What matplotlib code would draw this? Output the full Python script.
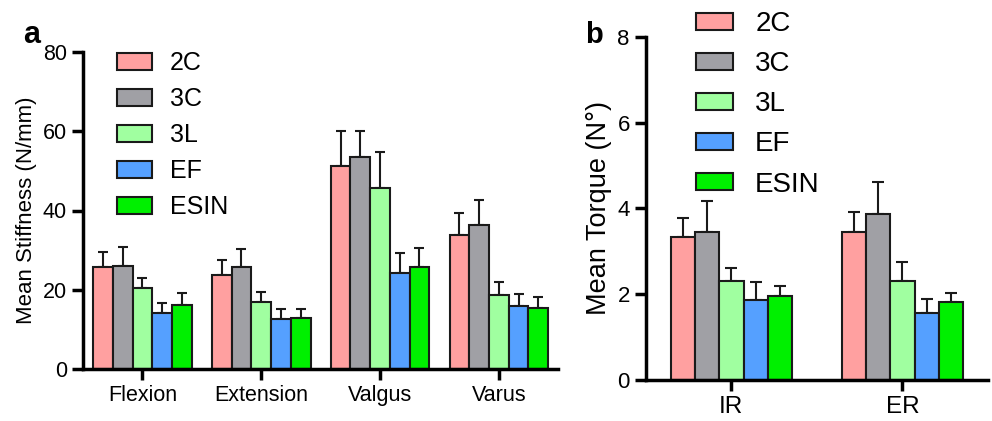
import numpy as np
import matplotlib
matplotlib.use('Agg')
import matplotlib.pyplot as plt
from matplotlib.patches import Patch

plt.rcParams['font.family'] = ['Liberation Sans', 'DejaVu Sans']

groups = ['2C', '3C', '3L', 'EF', 'ESIN']
colors = ['#FFA0A0', '#A0A0A5', '#A0FFA0', '#55A0FF', '#00F000']

# панель a - жесткость
stiff_cats = ['Flexion', 'Extension', 'Valgus', 'Varus']
stiff_mean = {
    '2C':   [25.7, 23.6, 51.3, 33.9],
    '3C':   [26.0, 25.7, 53.6, 36.4],
    '3L':   [20.4, 16.9, 45.8, 18.8],
    'EF':   [14.1, 12.5, 24.3, 15.9],
    'ESIN': [16.1, 12.9, 25.8, 15.4],
}
stiff_sd = {
    '2C':   [3.8, 3.9, 8.8, 5.5],
    '3C':   [4.7, 4.7, 6.5, 6.3],
    '3L':   [2.6, 2.5, 8.9, 3.2],
    'EF':   [2.6, 2.6, 4.9, 3.0],
    'ESIN': [3.2, 2.2, 4.8, 2.7],
}

# панель b - момент
torque_cats = ['IR', 'ER']
torque_mean = {
    '2C':   [3.34, 3.46],
    '3C':   [3.46, 3.88],
    '3L':   [2.30, 2.30],
    'EF':   [1.86, 1.56],
    'ESIN': [1.96, 1.83],
}
torque_sd = {
    '2C':   [0.44, 0.46],
    '3C':   [0.71, 0.74],
    '3L':   [0.32, 0.45],
    'EF':   [0.43, 0.33],
    'ESIN': [0.23, 0.21],
}


def draw_panel(ax, cats, means, sds, width, ylim, yticks, ylabel, fs, cap):
    x = np.arange(len(cats))
    n = len(groups)
    for k, g in enumerate(groups):
        pos = x + (k - (n - 1) / 2) * width
        ax.bar(pos, means[g], width, color=colors[k], edgecolor='#1a1a1a',
               linewidth=1.5, zorder=2)
        ax.errorbar(pos, means[g], yerr=[np.zeros(len(cats)), sds[g]],
                    fmt='none', ecolor='#1a1a1a', elinewidth=1.5,
                    capsize=cap, capthick=1.5, zorder=1)
    ax.set_xlim(-0.5, len(cats) - 0.5)
    ax.set_ylim(*ylim)
    ax.set_yticks(yticks)
    ax.set_xticks(x)
    ax.set_xticklabels(cats)
    ax.set_ylabel(ylabel, fontsize=fs['ylabel'])
    for s in ['top', 'right']:
        ax.spines[s].set_visible(False)
    for s in ['left', 'bottom']:
        ax.spines[s].set_linewidth(2.5)
    ax.tick_params(width=2.5, length=8)
    ax.tick_params(axis='y', labelsize=fs['yt'])
    ax.tick_params(axis='x', labelsize=fs['xt'])
    handles = [Patch(facecolor=colors[k], edgecolor='#1a1a1a', linewidth=1.5,
                     label=g) for k, g in enumerate(groups)]
    return handles


fig = plt.figure(figsize=(9.92, 4.21), dpi=100)
ax1 = fig.add_axes([0.0837, 0.1235, 0.479, 0.753])
ax2 = fig.add_axes([0.651, 0.0974, 0.345, 0.815])

h = draw_panel(ax1, stiff_cats, stiff_mean, stiff_sd, 0.166, (0, 80),
               [0, 20, 40, 60, 80], 'Mean Stiffness (N/mm)',
               {'ylabel': 16, 'yt': 15.5, 'xt': 15.5}, 3.5)
fig.legend(handles=h, loc='upper left', bbox_to_anchor=(0.118, 0.879),
           frameon=False, fontsize=18, handlelength=1.4, handleheight=0.68,
           labelspacing=0.48, handletextpad=0.72, borderpad=0, borderaxespad=0)

h = draw_panel(ax2, torque_cats, torque_mean, torque_sd, 0.142, (0, 8),
               [0, 2, 4, 6, 8], 'Mean Torque (N°)',
               {'ylabel': 19.5, 'yt': 16, 'xt': 17.5}, 4.3)
fig.legend(handles=h, loc='upper left', bbox_to_anchor=(0.7016, 0.974),
           frameon=False, fontsize=20, handlelength=1.33, handleheight=0.58,
           labelspacing=0.51, handletextpad=0.8, borderpad=0, borderaxespad=0)

fig.text(0.023, 0.898, 'a', fontsize=22, fontweight='bold', va='baseline')
fig.text(0.59, 0.898, 'b', fontsize=21, fontweight='bold', va='baseline')

fig.savefig('out.png', dpi=100)
